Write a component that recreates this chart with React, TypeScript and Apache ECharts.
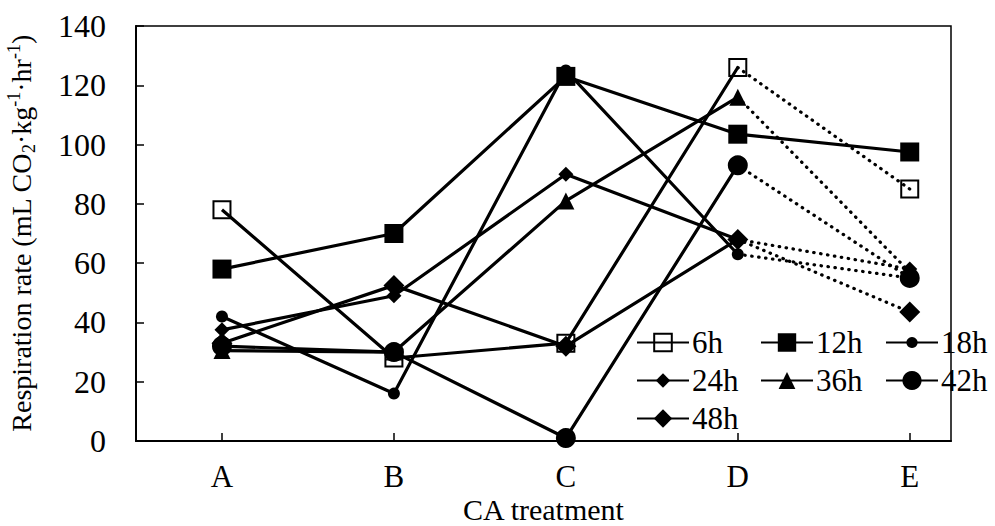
import React, { useEffect, useRef } from 'react';
import * as echarts from 'echarts';

const categories = ['A', 'B', 'C', 'D', 'E'];
const seriesNames = ['6h', '12h', '18h', '24h', '36h', '42h', '48h'];
const v6h = [78, 28, 33, 126, 85];
const v12h = [58, 70, 123, 103.5, 97.5];
const v18h = [42, 16, 125, 63, 55];
const v24h = [37.5, 49, 90, 68, 58];
const v36h = [30.5, 30, 81, 116, 57];
const v42h = [32, 30, 1, 93, 55];
const v48h = [33, 52.5, 32, 68, 43.5];
const yTickValues = [0, 20, 40, 60, 80, 100, 120, 140];
const xTickValues = [0, 1, 2, 3, 4];

const FONT = '"Liberation Serif", "Times New Roman", serif';

const allValues = [v6h, v12h, v18h, v24h, v36h, v42h, v48h];
// dotted last segment (D -> E) except 12h
const dottedLast = [true, false, true, true, true, true, true];

const styles: any[] = [
  { symbol: 'rect', symbolSize: 17, itemStyle: { color: 'rgba(0,0,0,0)', borderColor: '#000', borderWidth: 2 }, legendH: 22 },
  { symbol: 'rect', symbolSize: 19, itemStyle: { color: '#000' }, legendH: 23 },
  { symbol: 'circle', symbolSize: 12, itemStyle: { color: '#000' }, legendH: 14 },
  { symbol: 'diamond', symbolSize: 15, itemStyle: { color: '#000' }, legendH: 18 },
  { symbol: 'triangle', symbolSize: 17, itemStyle: { color: '#000' }, legendH: 21 },
  { symbol: 'circle', symbolSize: 20, itemStyle: { color: '#000' }, legendH: 24 },
  { symbol: 'diamond', symbolSize: 21, itemStyle: { color: '#000' }, legendH: 23 },
];

const legendPos = [
  [636, 344], [760, 344], [885, 344],
  [636, 382], [760, 382], [885, 382],
  [636, 420],
];

export default function App() {
  const ref = useRef<HTMLDivElement>(null);
  useEffect(() => {
    if (!ref.current) return;
    const chart = echarts.init(ref.current, null, { renderer: 'svg' });
    const series: any[] = [];
    seriesNames.forEach((name, i) => {
      const vals = allValues[i];
      const st = styles[i];
      const solidCount = dottedLast[i] ? 4 : 5;
      series.push({
        name,
        type: 'line',
        data: vals.slice(0, solidCount).map((v, k) => [k, v]),
        symbol: st.symbol,
        symbolSize: st.symbolSize,
        itemStyle: st.itemStyle,
        lineStyle: { color: '#000', width: 3.2 },
        showAllSymbol: true,
        z: 2,
      });
      if (dottedLast[i]) {
        series.push({
          name: name + ' (dotted)',
          type: 'line',
          data: [
            { value: [3, vals[3]], symbol: 'none' },
            { value: [4, vals[4]] },
          ],
          symbol: st.symbol,
          symbolSize: st.symbolSize,
          itemStyle: st.itemStyle,
          lineStyle: { color: '#000', width: 3.2, type: [0.5, 6.5], cap: 'round' },
          z: 2,
        });
      }
    });

    const legends = seriesNames.map((name, i) => ({
      data: [name],
      left: legendPos[i][0],
      top: legendPos[i][1] - 17,
      padding: 0,
      itemWidth: 52,
      itemHeight: styles[i].legendH,
      itemGap: 0,
      selectedMode: false,
      textStyle: { fontFamily: FONT, fontSize: 31, color: '#000', padding: [0, 0, 0, -2] },
    }));

    chart.setOption({
      animation: false,
      backgroundColor: '#fff',
      grid: {
        left: 136,
        right: 44,
        top: 26,
        bottom: 85,
        show: true,
        borderColor: '#000',
        borderWidth: 1.5,
        outerBoundsMode: 'none',
      },
      legend: legends,
      xAxis: {
        type: 'value',
        min: -0.5,
        max: 4.24,
        name: 'CA treatment',
        nameLocation: 'middle',
        nameGap: 53,
        nameMoveOverlap: false,
        nameTextStyle: { fontFamily: FONT, fontSize: 30, color: '#000' },
        axisLine: { show: true, onZero: false, lineStyle: { color: '#000', width: 2 } },
        axisTick: { show: true, inside: true, length: 8, lineStyle: { color: '#000', width: 1.5 }, customValues: xTickValues },
        axisLabel: {
          customValues: xTickValues,
          formatter: (v: number) => categories[Math.round(v)] ?? '',
          fontFamily: FONT,
          fontSize: 31,
          color: '#000',
          margin: 20,
        },
        splitLine: { show: false },
      },
      yAxis: {
        type: 'value',
        min: 0,
        max: 140,
        interval: 20,
        name: 'Respiration rate (mL CO{sub|2}·kg{sup|-1}·hr{sup|-1})',
        nameLocation: 'middle',
        nameRotate: 90,
        nameGap: 98,
        nameMoveOverlap: false,
        nameTextStyle: {
          fontFamily: FONT,
          fontSize: 28,
          color: '#000',
          lineHeight: 33,
          rich: {
            sub: { fontFamily: FONT, fontSize: 18, color: '#000', verticalAlign: 'bottom', lineHeight: 33 },
            sup: { fontFamily: FONT, fontSize: 18, color: '#000', verticalAlign: 'top', lineHeight: 33 },
          },
        },
        axisLine: { show: true, onZero: false, lineStyle: { color: '#000', width: 2 } },
        axisTick: { show: true, inside: true, length: 8, lineStyle: { color: '#000', width: 1.5 } },
        axisLabel: {
          fontFamily: FONT,
          fontSize: 32,
          color: '#000',
          margin: 30,
          formatter: (v: number) => (yTickValues.includes(v) ? String(v) : ''),
        },
        splitLine: { show: false },
      },
      series,
    });
    return () => chart.dispose();
  }, []);
  return (
    <div
      ref={ref}
      style={{ position: 'absolute', left: 0, top: 0, width: 995, height: 526 }}
    />
  );
}
